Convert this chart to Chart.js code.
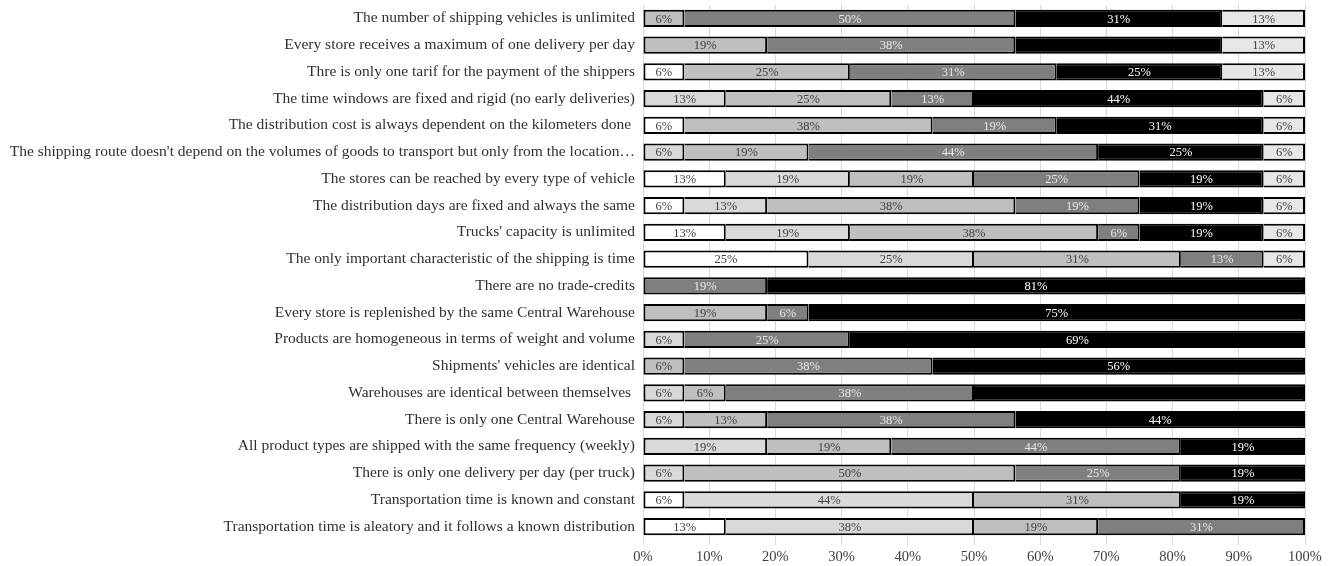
<!DOCTYPE html>
<html lang="en">
<head>
  <meta charset="UTF-8" />
  <title>Assumptions survey</title>
  <script src="https://cdn.jsdelivr.net/npm/chart.js@4"></script>
  <style>
    html, body { margin: 0; padding: 0; background: #fff; }
    #wrap { width: 1338px; height: 566px; }
  </style>
</head>
<body>
  <div id="wrap"><canvas id="chart" width="1338" height="566"></canvas></div>

  <script>
    // statements, top to bottom
    const statements = [
      "The number of shipping vehicles is unlimited",
      "Every store receives a maximum of one delivery per day",
      "Thre is only one tarif for the payment of the shippers",
      "The time windows are fixed and rigid (no early deliveries)",
      "The distribution cost is always dependent on the kilometers done ",
      "The shipping route doesn't depend on the volumes of goods to transport but only from the location\u2026",
      "The stores can be reached by every type of vehicle",
      "The distribution days are fixed and always the same",
      "Trucks' capacity is unlimited",
      "The only important characteristic of the shipping is time",
      "There are no trade-credits",
      "Every store is replenished by the same Central Warehouse",
      "Products are homogeneous in terms of weight and volume",
      "Shipments' vehicles are identical",
      "Warehouses are identical between themselves ",
      "There is only one Central Warehouse",
      "All product types are shipped with the same frequency (weekly)",
      "There is only one delivery per day (per truck)",
      "Transportation time is known and constant",
      "Transportation time is aleatory and it follows a known distribution"
    ];

    // share of answers (%) per level, same order as statements
    const level1 = [0, 0, 6.25, 0, 6.25, 0, 12.5, 6.25, 12.5, 25, 0, 0, 0, 0, 0, 0, 0, 0, 6.25, 12.5];
    const level2 = [0, 0, 0, 12.5, 0, 6.25, 18.75, 12.5, 18.75, 25, 0, 0, 6.25, 0, 6.25, 6.25, 18.75, 6.25, 43.75, 37.5];
    const level3 = [6.25, 18.75, 25, 25, 37.5, 18.75, 18.75, 37.5, 37.5, 31.25, 0, 18.75, 0, 6.25, 6.25, 12.5, 18.75, 50, 31.25, 18.75];
    const level4 = [50, 37.5, 31.25, 12.5, 18.75, 43.75, 25, 18.75, 6.25, 12.5, 18.75, 6.25, 25, 37.5, 37.5, 37.5, 43.75, 25, 0, 31.25];
    const level5 = [31.25, 31.25, 25, 43.75, 31.25, 25, 18.75, 18.75, 18.75, 0, 81.25, 75, 68.75, 56.25, 50, 43.75, 18.75, 18.75, 18.75, 0];
    const level6 = [12.5, 12.5, 12.5, 6.25, 6.25, 6.25, 6.25, 6.25, 6.25, 6.25, 0, 0, 0, 0, 0, 0, 0, 0, 0, 0];

    const xTicks = [0, 10, 20, 30, 40, 50, 60, 70, 80, 90, 100];

    // labels the original chart leaves out: [row, dataset]
    const hiddenLabels = [[1, 4], [14, 4]];

    const fills = ["#ffffff", "#d9d9d9", "#bfbfbf", "#7f7f7f", "#000000", "#e7e6e6"];
    const textColors = ["#404040", "#404040", "#404040", "#e8e8e8", "#ffffff", "#404040"];
    const series = [level1, level2, level3, level4, level5, level6];
    const FONT = "'Liberation Serif', 'DejaVu Serif', serif";

    const datasets = series.map((vals, i) => ({
      label: "Level " + (i + 1),
      data: vals,
      backgroundColor: fills[i],
      borderColor: "#000000",
      borderSkipped: false,
      borderWidth: ctx => {
        const row = ctx.dataIndex;
        if (!series[i][row]) return 0;
        // left border only on the first visible segment, neighbours share the right one
        let first = true;
        for (let k = 0; k < i; k++) if (series[k][row] > 0) first = false;
        return { top: 2, bottom: 2, right: 2, left: first ? 2 : 0 };
      },
      barPercentage: 0.65,
      categoryPercentage: 1
    }));

    const segmentLabels = {
      id: "segmentLabels",
      afterDatasetsDraw(chart) {
        const c = chart.ctx;
        c.save();
        c.font = "12.5px " + FONT;
        c.textAlign = "center";
        c.textBaseline = "middle";
        chart.data.datasets.forEach((ds, di) => {
          const meta = chart.getDatasetMeta(di);
          meta.data.forEach((bar, row) => {
            const v = ds.data[row];
            if (!v) return;
            if (hiddenLabels.some(h => h[0] === row && h[1] === di)) return;
            const p = bar.getProps(["x", "y", "base"], true);
            c.fillStyle = textColors[di];
            c.fillText(Math.round(v) + "%", (p.x + p.base) / 2, p.y + 1);
          });
        });
        c.restore();
      }
    };

    new Chart(document.getElementById("chart"), {
      type: "bar",
      data: { labels: statements, datasets },
      options: {
        indexAxis: "y",
        responsive: false,
        animation: false,
        layout: { padding: { top: 5, right: 33, left: 0, bottom: 0 } },
        plugins: {
          legend: { display: false },
          tooltip: { enabled: false }
        },
        scales: {
          x: {
            stacked: true,
            min: 0,
            max: 100,
            afterBuildTicks: axis => { axis.ticks = xTicks.map(v => ({ value: v })); },
            afterFit: axis => { axis.height = 26; },
            ticks: {
              callback: v => v + "%",
              color: "#404040",
              font: { family: FONT, size: 14.5 },
              padding: 3
            },
            grid: { color: "#d9d9d9", lineWidth: 1, tickLength: 5 },
            border: { display: false }
          },
          y: {
            stacked: true,
            afterFit: axis => {
              axis.width = 643;
              axis.paddingTop = 0;
              axis.paddingBottom = 0;
            },
            ticks: {
              color: "#303030",
              font: { family: FONT, size: 15.5 },
              padding: 0,
              autoSkip: false
            },
            grid: { display: false },
            border: { display: false }
          }
        }
      },
      plugins: [segmentLabels]
    });
  </script>
</body>
</html>
